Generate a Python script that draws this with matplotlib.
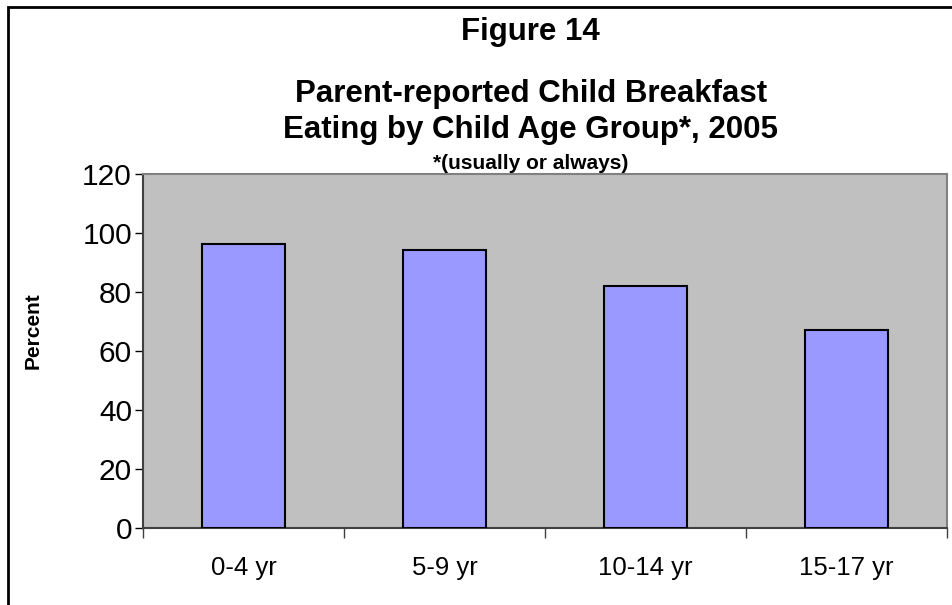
import matplotlib
matplotlib.use('Agg')
import matplotlib.pyplot as plt
from matplotlib.patches import Rectangle

# data
groups = ['0-4 yr', '5-9 yr', '10-14 yr', '15-17 yr']
percent = [96.3, 94.3, 82.0, 67.0]
yticks = [0, 20, 40, 60, 80, 100, 120]

plt.rcParams['font.family'] = ['Liberation Sans', 'DejaVu Sans']

fig = plt.figure(figsize=(9.53, 6.05), dpi=100)
ax = fig.add_axes([143 / 953, 1 - 528 / 605, (947 - 143) / 953, (528 - 174) / 605])

x = range(len(groups))
ax.bar(x, percent, width=0.41, color='#9999FF', edgecolor='black', linewidth=1.5, zorder=3)

ax.set_facecolor('#C0C0C0')
ax.set_xlim(-0.5, len(groups) - 0.5)
ax.set_ylim(0, 120)
ax.set_yticks(yticks)
ax.tick_params(axis='y', labelsize=21.5, length=6, width=1, direction='out', pad=2)

# category labels centred, ticks on the boundaries
ax.set_xticks(list(x))
ax.set_xticklabels(groups)
ax.set_xticks([i - 0.5 for i in range(len(groups) + 1)], minor=True)
ax.tick_params(axis='x', which='major', length=0, labelsize=18.5, pad=20)
ax.tick_params(axis='x', which='minor', length=7, width=1, color='#404040', direction='out')

for side in ['top', 'right']:
    ax.spines[side].set_color('#808080')
    ax.spines[side].set_linewidth(1.5)
ax.spines['left'].set_color('#404040')
ax.spines['left'].set_linewidth(1.5)
ax.spines['bottom'].set_color('#404040')
ax.spines['bottom'].set_linewidth(1.5)

# y axis title placed in figure coordinates
fig.text(33 / 953, 1 - 331 / 605, 'Percent', rotation=90, ha='center', va='center',
         fontsize=15, fontweight='bold')

# titles
fig.text(0.557, 1 - 32 / 605, 'Figure 14', ha='center', va='center', fontsize=22.5, fontweight='bold')
fig.text(0.557, 1 - 94 / 605, 'Parent-reported Child Breakfast', ha='center', va='center', fontsize=22.5, fontweight='bold')
fig.text(0.557, 1 - 130 / 605, 'Eating by Child Age Group*, 2005', ha='center', va='center', fontsize=22.5, fontweight='bold')
fig.text(0.557, 1 - 163 / 605, '*(usually or always)', ha='center', va='center', fontsize=15, fontweight='bold')

# outer chart frame
fig.patches.append(Rectangle((8 / 953, -0.05), 1.1, 1 - 7 / 605 + 0.05, transform=fig.transFigure,
                             fill=False, edgecolor='black', linewidth=2))

plt.savefig('out.png', dpi=100)
